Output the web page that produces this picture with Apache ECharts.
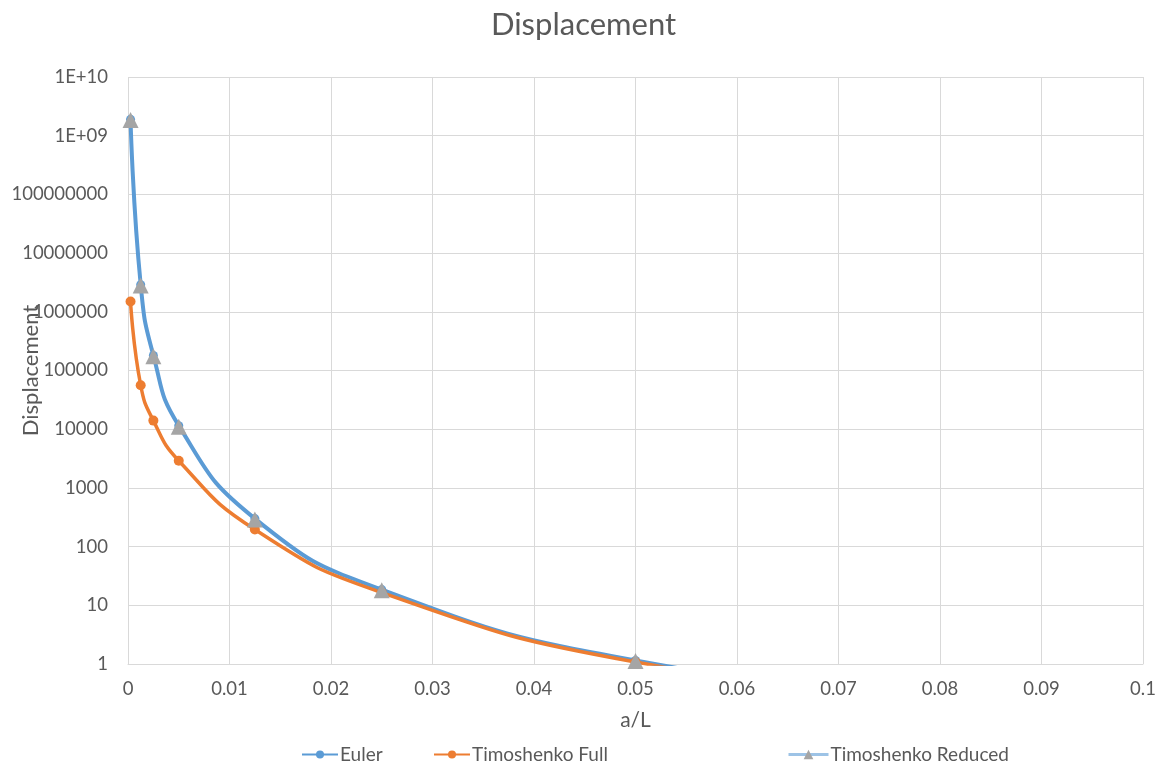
<!DOCTYPE html>
<html><head><meta charset="utf-8">
<script src="https://cdn.jsdelivr.net/npm/echarts@6/dist/echarts.min.js"></script>
<style>html,body{margin:0;padding:0;background:#fff}#c{width:1167px;height:769px}</style>
</head><body><div id="c"></div>
<script>
var xValues = [0.00025, 0.00125, 0.0025, 0.005, 0.0125, 0.025, 0.05, 0.1];
var euler = [1.9e9, 2.9e6, 1.8e5, 1.15e4, 300, 18.5, 1.15, 0.072];
var timoFull = [1.5e6, 5.6e4, 1.4e4, 2.9e3, 195, 16.5, 1.08, 0.069];
var timoReduced = [1.85e9, 2.8e6, 1.75e5, 1.1e4, 290, 18, 1.12, 0.07];
var seriesNames = ['Euler', 'Timoshenko Full', 'Timoshenko Reduced'];

function pairs(ys){ return xValues.map(function(x,i){ return [x, ys[i]]; }); }
var FONT = 'Lato';
var TXT = '#595959';
function yFmt(v){
  var e = Math.round(Math.log10(v));
  if (e >= 9) return '1E+' + (e < 10 ? '0' + e : e);
  return String(Math.round(v));
}
var chart = echarts.init(document.getElementById('c'));
chart.setOption({
  animation: false,
  title: { text: 'Displacement', left: 'center', top: 4,
    textStyle: { fontFamily: FONT, fontSize: 31, fontWeight: 'normal', color: TXT } },
  grid: { left: 128, right: 24, top: 77, bottom: 105, containLabel: false, outerBoundsMode: 'none' },
  xAxis: {
    type: 'value', min: 0, max: 0.1, interval: 0.01,
    name: 'a/L', nameLocation: 'middle', nameGap: 46, nameMoveOverlap: false,
    nameTextStyle: { fontFamily: FONT, fontSize: 21, color: TXT },
    axisLine: { show: true, lineStyle: { color: '#D9D9D9', width: 1 } },
    axisTick: { show: false },
    axisLabel: { fontFamily: FONT, fontSize: 18.5, color: TXT, margin: 16 },
    splitLine: { show: true, lineStyle: { color: '#D9D9D9', width: 1 } }
  },
  yAxis: {
    type: 'log', logBase: 10, min: 1, max: 1e10, interval: 1,
    name: 'Displacement', nameLocation: 'middle', nameGap: 86, nameMoveOverlap: false,
    nameTextStyle: { fontFamily: FONT, fontSize: 22, color: TXT },
    axisLine: { show: false }, axisTick: { show: false },
    axisLabel: { fontFamily: FONT, fontSize: 18.5, color: TXT, margin: 20, formatter: yFmt },
    splitLine: { show: true, lineStyle: { color: '#D9D9D9', width: 1 } }
  },
  legend: [
    { data: [seriesNames[0]], left: 296, top: 740, itemWidth: 36, itemHeight: 10, itemGap: 2,
      textStyle: { fontFamily: FONT, fontSize: 19, color: TXT, padding: [0,0,0,-3] } },
    { data: [seriesNames[1]], left: 428, top: 740, itemWidth: 36, itemHeight: 10,
      textStyle: { fontFamily: FONT, fontSize: 19, color: TXT, padding: [0,0,0,-3] } },
    { data: [{ name: seriesNames[2], lineStyle: { color: '#9DC3E6', width: 3, opacity: 1 } }],
      left: 782, top: 740, itemWidth: 40, itemHeight: 12,
      textStyle: { fontFamily: FONT, fontSize: 19, color: TXT, padding: [0,0,0,-3] } }
  ],
  series: [
    { name: seriesNames[0], type: 'line', data: pairs(euler), smooth: 0.5,
      symbol: 'circle', symbolSize: 9, color: '#5B9BD5',
      lineStyle: { width: 4, color: '#5B9BD5' }, itemStyle: { color: '#5B9BD5' } },
    { name: seriesNames[1], type: 'line', data: pairs(timoFull), smooth: 0.5,
      symbol: 'circle', symbolSize: 10, color: '#ED7D31',
      lineStyle: { width: 3.5, color: '#ED7D31' }, itemStyle: { color: '#ED7D31' } },
    { name: seriesNames[2], type: 'line', data: pairs(timoReduced), smooth: 0.5,
      symbol: 'triangle', symbolSize: 16, color: '#A5A5A5',
      lineStyle: { width: 3.5, color: '#A5A5A5', opacity: 0 }, itemStyle: { color: '#A5A5A5' } }
  ]
});
</script></body></html>
